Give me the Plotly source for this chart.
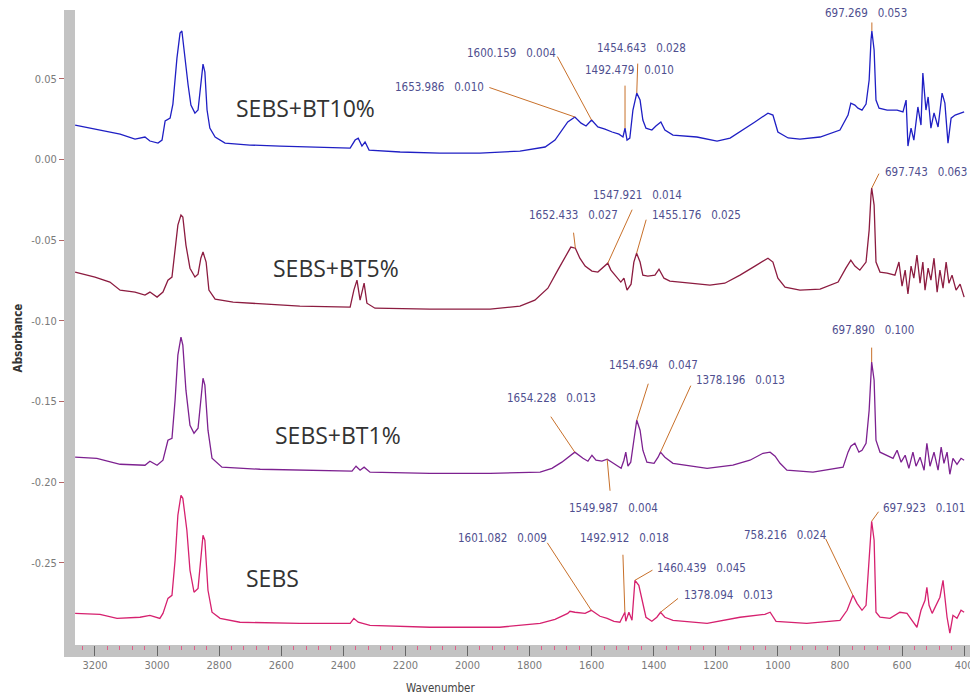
import numpy as np
import plotly.graph_objects as go

# ---------------- data ----------------
series_names = ["SEBS+BT10%", "SEBS+BT5%", "SEBS+BT1%", "SEBS"]

wn_bt10 = [3264, 3216, 3168, 3119, 3071, 3039, 3023, 2997, 2984, 2974, 2958, 2949, 2936, 2926, 2920,
           2910, 2900, 2891, 2878, 2868, 2859, 2852, 2846, 2839, 2830, 2813, 2781, 2701, 2604, 2475,
           2378, 2362, 2352, 2340, 2330, 2317, 2217, 2089, 1960, 1831, 1750, 1718, 1696, 1677,
           1653.986, 1634, 1618, 1600.159, 1580, 1557, 1534, 1512, 1499, 1492.479, 1486, 1477, 1467,
           1454.643, 1444, 1435, 1425, 1406, 1393, 1377, 1364, 1338, 1261, 1196, 1154, 1122, 1074,
           1032, 1016, 1000, 967, 929, 864, 800, 774, 765, 752, 742, 729, 716, 706, 700, 697.269,
           690, 684, 674, 648, 616, 597, 587, 581, 571, 562, 549, 539, 533, 523, 516, 507, 497, 484,
           471, 462, 452, 442, 429, 413, 400]
abs_bt10 = [0.0213, 0.0194, 0.0176, 0.0157, 0.0126, 0.0139, 0.0114, 0.0101, 0.0120, 0.0238, 0.0256,
            0.0343, 0.0628, 0.0783, 0.0796, 0.0616, 0.0461, 0.0337, 0.0287, 0.0306, 0.0492, 0.0591,
            0.0542, 0.0306, 0.0194, 0.0139, 0.0101, 0.0089, 0.0083, 0.0077, 0.0070, 0.0120, 0.0132,
            0.0083, 0.0108, 0.0058, 0.0046, 0.0039, 0.0039, 0.0052, 0.0077, 0.0120, 0.0182, 0.0232,
            0.0263, 0.0225, 0.0207, 0.0244, 0.0201, 0.0188, 0.0170, 0.0157, 0.0139, 0.0194, 0.0120,
            0.0132, 0.0306, 0.0411, 0.0368, 0.0244, 0.0194, 0.0182, 0.0207, 0.0232, 0.0182, 0.0151,
            0.0139, 0.0114, 0.0132, 0.0170, 0.0232, 0.0287, 0.0275, 0.0170, 0.0133, 0.0126, 0.0139,
            0.0182, 0.0275, 0.0349, 0.0337, 0.0318, 0.0306, 0.0343, 0.0492, 0.0740, 0.0796, 0.0678,
            0.0368, 0.0318, 0.0306, 0.0306, 0.0294, 0.0368, 0.0083, 0.0194, 0.0120, 0.0325, 0.0213,
            0.0535, 0.0306, 0.0387, 0.0194, 0.0288, 0.0201, 0.0411, 0.0349, 0.0101, 0.0256, 0.0275,
            0.0288, 0.0294]

wn_bt5 = [3264, 3200, 3152, 3119, 3071, 3039, 3023, 3000, 2981, 2965, 2952, 2942, 2933, 2923, 2917,
          2907, 2894, 2878, 2868, 2859, 2852, 2842, 2833, 2813, 2755, 2646, 2540, 2378, 2366, 2356,
          2346, 2333, 2324, 2298, 2121, 1927, 1831, 1783, 1741, 1709, 1683, 1667, 1652.433, 1638,
          1621, 1599, 1580, 1560, 1547.921, 1538, 1522, 1506, 1496, 1486, 1473, 1464, 1455.176, 1444,
          1435, 1419, 1396, 1383, 1367, 1348, 1283, 1219, 1171, 1122, 1074, 1032, 1016, 1000, 977,
          929, 864, 806, 781, 765, 752, 736, 716, 706, 700, 697.743, 690, 684, 671, 648, 623, 610,
          600, 590, 581, 571, 562, 552, 542, 533, 526, 516, 507, 497, 487, 478, 468, 458, 449, 439,
          426, 413, 400]
abs_bt5 = [-0.0698, -0.0729, -0.0760, -0.0810, -0.0822, -0.0841, -0.0822, -0.0853, -0.0822, -0.0748,
           -0.0729, -0.0562, -0.0407, -0.0345, -0.0357, -0.0531, -0.0674, -0.0729, -0.0711, -0.0612,
           -0.0574, -0.0636, -0.0810, -0.0866, -0.0884, -0.0897, -0.0909, -0.0915, -0.0810, -0.0748,
           -0.0872, -0.0767, -0.0891, -0.0922, -0.0928, -0.0928, -0.0909, -0.0872, -0.0798, -0.0686,
           -0.0593, -0.0543, -0.0550, -0.0612, -0.0661, -0.0692, -0.0698, -0.0661, -0.0643, -0.0686,
           -0.0723, -0.0760, -0.0736, -0.0810, -0.0773, -0.0636, -0.0581, -0.0636, -0.0717, -0.0723,
           -0.0717, -0.0680, -0.0736, -0.0754, -0.0767, -0.0779, -0.0767, -0.0717, -0.0661, -0.0612,
           -0.0636, -0.0736, -0.0791, -0.0810, -0.0804, -0.0760, -0.0674, -0.0624, -0.0661, -0.0686,
           -0.0636, -0.0438, -0.0221, -0.0178, -0.0283, -0.0636, -0.0698, -0.0704, -0.0717, -0.0636,
           -0.0785, -0.0686, -0.0834, -0.0661, -0.0736, -0.0593, -0.0767, -0.0636, -0.0810, -0.0674,
           -0.0748, -0.0612, -0.0822, -0.0686, -0.0798, -0.0636, -0.0767, -0.0717, -0.0810, -0.0773,
           -0.0853]

wn_bt1 = [3264, 3194, 3119, 3039, 3023, 3000, 2981, 2965, 2952, 2942, 2933, 2923, 2917, 2907, 2894,
          2881, 2868, 2859, 2852, 2846, 2836, 2823, 2791, 2668, 2540, 2372, 2359, 2346, 2333, 2314,
          2121, 1927, 1766, 1728, 1696, 1654.228, 1628, 1612, 1599, 1586, 1567, 1549.987, 1525, 1505,
          1496, 1490, 1483, 1474, 1464, 1454.694, 1444, 1435, 1422, 1399, 1386, 1378.196, 1364, 1338,
          1228, 1145, 1090, 1048, 1025, 1009, 993, 971, 887, 790, 774, 765, 752, 739, 729, 716, 706,
          700, 697.890, 690, 684, 671, 648, 629, 616, 603, 590, 578, 565, 555, 542, 529, 520, 510,
          497, 484, 474, 465, 455, 446, 436, 423, 410, 400]
abs_bt1 = [-0.1845, -0.1852, -0.1889, -0.1895, -0.1870, -0.1895, -0.1864, -0.1740, -0.1728, -0.1492,
           -0.1213, -0.1101, -0.1151, -0.1430, -0.1647, -0.1697, -0.1666, -0.1461, -0.1356, -0.1399,
           -0.1678, -0.1852, -0.1907, -0.1920, -0.1926, -0.1932, -0.1901, -0.1926, -0.1907, -0.1938,
           -0.1945, -0.1945, -0.1938, -0.1914, -0.1876, -0.1814, -0.1852, -0.1870, -0.1833, -0.1864,
           -0.1870, -0.1858, -0.1889, -0.1914, -0.1864, -0.1814, -0.1901, -0.1876, -0.1740, -0.1616,
           -0.1678, -0.1802, -0.1876, -0.1883, -0.1845, -0.1814, -0.1845, -0.1883, -0.1914, -0.1895,
           -0.1864, -0.1821, -0.1814, -0.1839, -0.1883, -0.1926, -0.1938, -0.1907, -0.1814, -0.1777,
           -0.1759, -0.1814, -0.1802, -0.1759, -0.1554, -0.1306, -0.1256, -0.1368, -0.1740, -0.1814,
           -0.1833, -0.1852, -0.1802, -0.1876, -0.1833, -0.1914, -0.1814, -0.1901, -0.1845, -0.1926,
           -0.1759, -0.1901, -0.1814, -0.1926, -0.1783, -0.1883, -0.1814, -0.1951, -0.1852, -0.1889,
           -0.1852, -0.1864]

wn_sebs = [3264, 3184, 3129, 3055, 3023, 2991, 2981, 2965, 2952, 2942, 2933, 2923, 2917, 2904, 2894,
           2881, 2868, 2859, 2852, 2846, 2836, 2823, 2797, 2733, 2540, 2378, 2366, 2352, 2314, 2121,
           1896, 1766, 1718, 1677, 1670, 1654, 1621, 1601.082, 1573, 1550, 1528, 1509, 1492.912,
           1490, 1480, 1470, 1464, 1460.439, 1448, 1438, 1425, 1406, 1390, 1378.094, 1364, 1338, 1228,
           1122, 1042, 1025, 1006, 907, 800, 777, 758.216, 745, 729, 716, 706, 700, 697.923, 690, 684,
           671, 639, 607, 584, 568, 552, 539, 526, 520, 513, 503, 491, 478, 468, 462, 455, 446, 436,
           423, 410, 400]
abs_sebs = [-0.2813, -0.2819, -0.2844, -0.2837, -0.2825, -0.2844, -0.2813, -0.2720, -0.2701, -0.2484,
            -0.2205, -0.2081, -0.2100, -0.2298, -0.2546, -0.2682, -0.2658, -0.2453, -0.2329, -0.2360,
            -0.2670, -0.2806, -0.2844, -0.2868, -0.2875, -0.2875, -0.2844, -0.2868, -0.2887, -0.2899,
            -0.2899, -0.2875, -0.2850, -0.2813, -0.2800, -0.2806, -0.2813, -0.2794, -0.2831, -0.2844,
            -0.2862, -0.2868, -0.2806, -0.2862, -0.2806, -0.2856, -0.2701, -0.2608, -0.2639, -0.2732,
            -0.2837, -0.2862, -0.2837, -0.2806, -0.2837, -0.2856, -0.2875, -0.2837, -0.2819, -0.2806,
            -0.2862, -0.2875, -0.2856, -0.2794, -0.2701, -0.2751, -0.2794, -0.2763, -0.2484, -0.2267,
            -0.2242, -0.2360, -0.2806, -0.2837, -0.2844, -0.2806, -0.2813, -0.2856, -0.2899, -0.2794,
            -0.2732, -0.2651, -0.2763, -0.2813, -0.2763, -0.2713, -0.2608, -0.2701, -0.2837, -0.2936,
            -0.2825, -0.2844, -0.2794, -0.2806]

# peak-pick readouts: (wavenumber, height)
peaks_bt10 = [(1653.986, 0.010), (1600.159, 0.004), (1492.479, 0.010), (1454.643, 0.028), (697.269, 0.053)]
peaks_bt5 = [(1652.433, 0.027), (1547.921, 0.014), (1455.176, 0.025), (697.743, 0.063)]
peaks_bt1 = [(1654.228, 0.013), (1549.987, 0.004), (1454.694, 0.047), (1378.196, 0.013), (697.890, 0.100)]
peaks_sebs = [(1601.082, 0.009), (1492.912, 0.018), (1460.439, 0.045), (1378.094, 0.013),
              (758.216, 0.024), (697.923, 0.101)]

y_ticks = [0.05, 0.00, -0.05, -0.10, -0.15, -0.20, -0.25]
x_ticks = [3200, 3000, 2800, 2600, 2400, 2200, 2000, 1800, 1600, 1400, 1200, 1000, 800, 600, 400]

# ---------------- styling ----------------
colors = ["#1f1fc4", "#8c1c40", "#7d2190", "#d6216f"]
name_pos = [(0.257, 0.846), (0.292, 0.594), (0.294, 0.330), (0.221, 0.106)]
# text (left edge dx, middle dy) and leader tail (dx, dy) in pixels from the peak
label_offsets = [
    [(-182, -30, -87, -30), (-127, -67, -35, -65), (-42, -58, 0, -44), (-42, -45, 1, -31), (-49, -18, 0, -10)],
    [(-48, -33, -2, -17), (-17, -68, 25, -55), (13, -38, 10, -35), (11, -16, 8, -16)],
    [(-70, -54, -25, -37), (-40, 49, 3, 33), (-30, -55, 12, -38), (34, -72, 31, -68), (-42, -32, 0, -16)],
    [(-135, -72, -45, -69), (-47, -74, -2, -59), (20, -12, 19, -11), (21, -17, 19, -15),
     (-111, -60, -28, -58), (9, -13, 8, -11)],
]
narrow = "Liberation Sans Narrow, Arial Narrow, DejaVu Sans Condensed, Liberation Sans, Arial"
label_color = "#4f4f8f"
leader_color = "#c8702a"

spectra = [(wn_bt10, abs_bt10, peaks_bt10), (wn_bt5, abs_bt5, peaks_bt5),
           (wn_bt1, abs_bt1, peaks_bt1), (wn_sebs, abs_sebs, peaks_sebs)]

fig = go.Figure()
annotations = []
NB = "\u00a0"

for i, (wn, ab, peaks) in enumerate(spectra):
    fig.add_trace(go.Scatter(x=wn, y=ab, mode="lines", name=series_names[i],
                             line=dict(color=colors[i], width=1.3), showlegend=False))
    wn_arr = np.array(wn, dtype=float)[::-1]
    ab_arr = np.array(ab, dtype=float)[::-1]
    for (pw, ph), (tdx, tdy, ldx, ldy) in zip(peaks, label_offsets[i]):
        py = float(np.interp(pw, wn_arr, ab_arr))
        # leader line
        annotations.append(dict(x=pw, y=py, xref="x", yref="y", text="", showarrow=True,
                                arrowhead=0, arrowwidth=1, arrowcolor=leader_color,
                                ax=ldx, ay=ldy, standoff=0, startstandoff=0))
        # readout text
        annotations.append(dict(x=pw, y=py, xref="x", yref="y",
                                text=f"{pw:.3f}{NB*3}{ph:.3f}", showarrow=False,
                                xanchor="left", yanchor="middle", xshift=tdx, yshift=-tdy,
                                font=dict(family=narrow, size=11.5, color=label_color)))
    annotations.append(dict(x=name_pos[i][0], y=name_pos[i][1], xref="paper", yref="paper",
                            text=series_names[i], showarrow=False, xanchor="center", yanchor="middle",
                            font=dict(family="Open Sans, Liberation Sans, Arial", size=23, color="#333333")))

annotations.append(dict(x=-0.064, y=0.484, xref="paper", yref="paper", text="<b>Absorbance</b>",
                        showarrow=False, textangle=-90, xanchor="center", yanchor="middle",
                        font=dict(family=narrow, size=11.5, color="#333333")))
annotations.append(dict(x=0.408, y=-0.068, xref="paper", yref="paper", text="Wavenumber",
                        showarrow=False, xanchor="center", yanchor="middle",
                        font=dict(family=narrow, size=11.5, color="#444444")))

bar_gray = "#c3c3c3"
shapes = [
    # bottom frame bar (ticks drawn on top of it)
    dict(type="rect", xref="paper", yref="paper", x0=-0.0123, x1=1.0, y0=-0.019, y1=0.0,
         fillcolor=bar_gray, line=dict(width=0), layer="below"),
    # left frame bar (covers the inner part of the y ticks)
    dict(type="rect", xref="paper", yref="paper", x0=-0.0123, x1=0.0, y0=-0.019, y1=1.0,
         fillcolor=bar_gray, line=dict(width=0), layer="above"),
]

fig.update_layout(
    width=970, height=695,
    margin=dict(l=75, r=0, t=10, b=50, autoexpand=False),
    paper_bgcolor="white", plot_bgcolor="white",
    annotations=annotations, shapes=shapes, showlegend=False,
)
fig.update_xaxes(range=[3264.4, 381.1], tickvals=x_ticks, ticktext=[str(v) for v in x_ticks],
                 ticks="outside", ticklen=10, tickwidth=1, tickcolor="#666666",
                 minor=dict(dtick=40, tick0=0, ticks="outside", ticklen=4, tickcolor="#e0608a", tickwidth=1),
                 showgrid=False, zeroline=False, showline=False, automargin=False,
                 ticklabeloverflow="allow",
                 tickfont=dict(family=narrow, size=11, color="#7a7a7a"))
fig.update_yaxes(range=[-0.3009, 0.0926], tickvals=y_ticks, ticktext=[f"{v:.2f}" for v in y_ticks],
                 ticks="outside", ticklen=15, tickwidth=1, tickcolor="#b46464",
                 showgrid=False, zeroline=False, showline=False, automargin=False,
                 tickfont=dict(family=narrow, size=11, color="#7a7a7a"))

fig.write_html("out.html")
